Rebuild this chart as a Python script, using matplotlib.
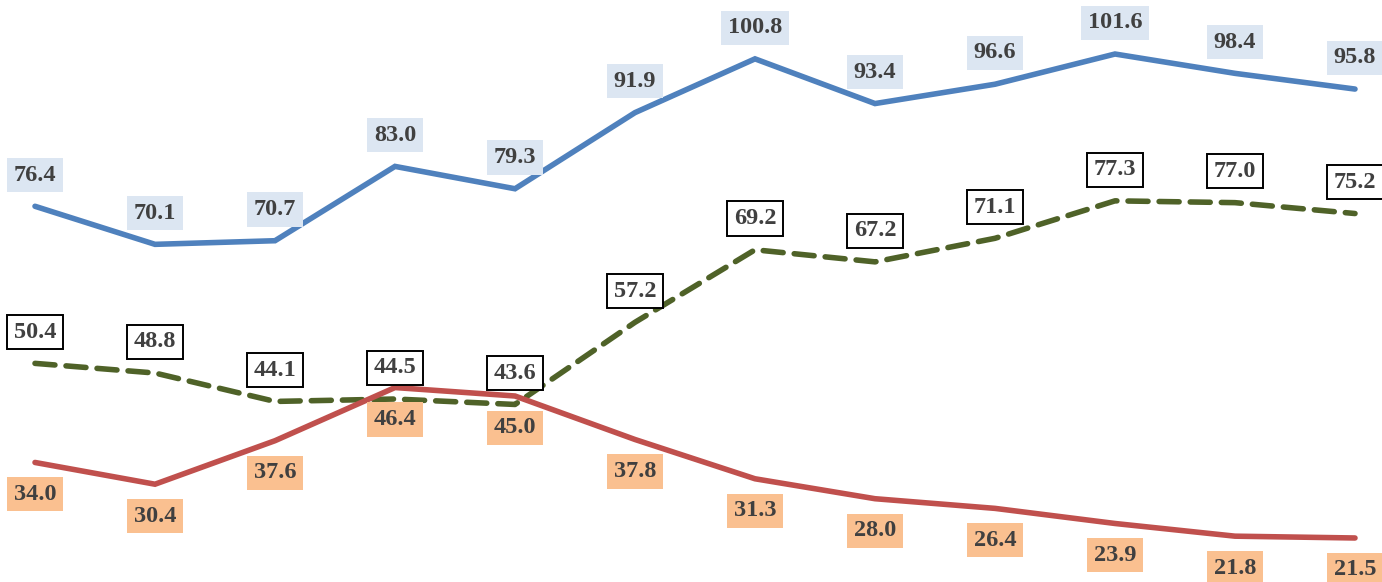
import matplotlib
matplotlib.use('Agg')
import matplotlib.pyplot as plt

x = list(range(12))
blue_vals = [76.4, 70.1, 70.7, 83.0, 79.3, 91.9, 100.8, 93.4, 96.6, 101.6, 98.4, 95.8]
green_vals = [50.4, 48.8, 44.1, 44.5, 43.6, 57.2, 69.2, 67.2, 71.1, 77.3, 77.0, 75.2]
red_vals = [34.0, 30.4, 37.6, 46.4, 45.0, 37.8, 31.3, 28.0, 26.4, 23.9, 21.8, 21.5]

plt.rcParams['font.family'] = ['Liberation Serif', 'DejaVu Serif']

fig = plt.figure(figsize=(13.82, 5.82), dpi=100)
ax = fig.add_axes([0, 0, 1, 1])

ax.plot(x, blue_vals, color='#4F81BD', lw=4, solid_capstyle='round', solid_joinstyle='miter')
ax.plot(x, green_vals, color='#4F6228', lw=4, ls=(0, (3.6, 2.0)), dash_capstyle='round')
ax.plot(x, red_vals, color='#C0504D', lw=4, solid_capstyle='round', solid_joinstyle='miter')

def add_labels(vals, dy, face, edge):
    for xi, v in zip(x, vals):
        ax.annotate(f'{v:.1f}', (xi, v), xytext=(0, dy), textcoords='offset points',
                    ha='center', va='center', fontsize=17.5, fontweight='bold', color='#404040',
                    bbox=dict(boxstyle='square,pad=0.27', fc=face, ec=edge, lw=1.4 if edge != 'none' else 0))

add_labels(blue_vals, 22.5, '#DCE6F2', 'none')
add_labels(green_vals, 22.5, 'white', 'black')
add_labels(red_vals, -23, '#FAC090', 'none')

ax.set_xlim(-35 / 120, 11 + 27 / 120)
ax.set_ylim(21.5 - 44 / 6.04, 101.6 + 54 / 6.04)
ax.axis('off')

fig.savefig('out.png', dpi=100)
